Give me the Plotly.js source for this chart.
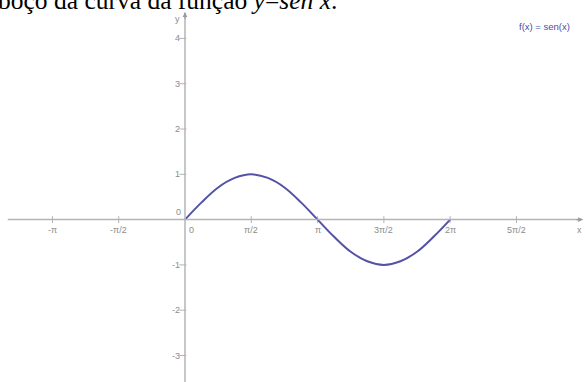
<!DOCTYPE html>
<html>
<head>
<meta charset="utf-8">
<script src="https://cdn.plot.ly/plotly-3.0.1.min.js"></script>
<style>
  html, body { margin: 0; padding: 0; background: #fff; }
  #chart { width: 585px; height: 382px; }
</style>
</head>
<body>
<div id="chart"></div>
<script>
const PI = Math.PI;

// curve points (x in multiples of pi/8)
const curveX = [0, PI/8, PI/4, 3*PI/8, PI/2, 5*PI/8, 3*PI/4, 7*PI/8, PI,
                9*PI/8, 5*PI/4, 11*PI/8, 3*PI/2, 13*PI/8, 7*PI/4, 15*PI/8, 2*PI];
const curveY = [0, 0.38, 0.71, 0.92, 1, 0.92, 0.71, 0.38, 0,
                -0.38, -0.71, -0.92, -1, -0.92, -0.71, -0.38, 0];

// x axis ticks
const xTickVals = [-PI, -PI/2, PI/2, PI, 3*PI/2, 2*PI, 5*PI/2];
const xTickText = ['-π', '-π/2', 'π/2', 'π', '3π/2', '2π', '5π/2'];

// y axis ticks
const yTickVals = [-3, -2, -1, 1, 2, 3, 4];
const yTickText = ['-3', '-2', '-1', '1', '2', '3', '4'];

const axisGray = '#b4b4b4';
const labelGray = '#8c8c8c';
const curveColor = '#5252a6';

const xMin = -4.384, xMax = 9.479;
const yMin = -3.585, yMax = 4.848;

let traces = [
  {
    x: xTickVals, y: xTickVals.map(() => 0),
    mode: 'markers', type: 'scatter', hoverinfo: 'skip',
    marker: { symbol: 'line-ns', size: 5, line: { color: axisGray, width: 1 } }
  },
  {
    x: yTickVals.map(() => -0.05), y: yTickVals,
    mode: 'markers', type: 'scatter', hoverinfo: 'skip',
    marker: { symbol: 'line-ew', size: 5, line: { color: axisGray, width: 1 } }
  },
  {
    x: curveX, y: curveY,
    mode: 'lines', type: 'scatter', hoverinfo: 'skip',
    line: { color: curveColor, width: 2, shape: 'spline', smoothing: 1 }
  }
];

let annotations = [];
xTickVals.forEach((v, i) => {
  annotations.push({
    x: v, y: 0, xref: 'x', yref: 'y', text: xTickText[i], showarrow: false,
    yanchor: 'top', yshift: -3, font: { family: 'Arial, Liberation Sans', size: 9, color: labelGray }
  });
});
yTickVals.forEach((v, i) => {
  annotations.push({
    x: 0, y: v, xref: 'x', yref: 'y', text: yTickText[i], showarrow: false,
    xanchor: 'right', xshift: -3, font: { family: 'Arial, Liberation Sans', size: 9, color: labelGray }
  });
});
// origin labels
annotations.push({
  x: 0, y: 0, xref: 'x', yref: 'y', text: '0', showarrow: false,
  xanchor: 'left', yanchor: 'top', xshift: 2, yshift: -3,
  font: { family: 'Arial, Liberation Sans', size: 9, color: labelGray }
});
annotations.push({
  x: 0, y: 0, xref: 'x', yref: 'y', text: '0', showarrow: false,
  xanchor: 'right', yanchor: 'bottom', xshift: -2, yshift: 1,
  font: { family: 'Arial, Liberation Sans', size: 9, color: labelGray }
});
// axis names
annotations.push({
  x: 9.36, y: 0, xref: 'x', yref: 'y', text: 'x', showarrow: false,
  yanchor: 'top', yshift: -3, font: { family: 'Arial, Liberation Sans', size: 9, color: labelGray }
});
annotations.push({
  x: 0, y: 4.43, xref: 'x', yref: 'y', text: 'y', showarrow: false,
  xanchor: 'right', xshift: -3, font: { family: 'Arial, Liberation Sans', size: 9, color: labelGray }
});
// arrow heads
annotations.push({
  x: 9.43, y: 0, ax: -8, ay: 0, xref: 'x', yref: 'y', text: '', showarrow: true,
  arrowhead: 2, arrowsize: 0.8, arrowwidth: 1.2, arrowcolor: '#9a9a9a'
});
annotations.push({
  x: 0, y: 4.58, ax: 0, ay: 8, xref: 'x', yref: 'y', text: '', showarrow: true,
  arrowhead: 2, arrowsize: 0.8, arrowwidth: 1.2, arrowcolor: '#9a9a9a'
});
// legend text
annotations.push({
  x: 572 / 585, y: 1 - 27 / 382, xref: 'paper', yref: 'paper', text: 'f(x) = sen(x)',
  showarrow: false, xanchor: 'right', yanchor: 'middle',
  font: { family: 'Arial, Liberation Sans', size: 9.5, color: '#4c4ca8' }
});
// clipped caption at the top
annotations.push({
  x: -4 / 585, y: 1 - 17 / 382, xref: 'paper', yref: 'paper',
  text: 'boço da curva da função <i>y</i>=<i>sen x</i>.',
  showarrow: false, xanchor: 'left', yanchor: 'bottom',
  font: { family: 'Liberation Serif, Times New Roman, serif', size: 25.5, color: '#000' }
});

const layout = {
  width: 585, height: 382,
  margin: { l: 0, r: 0, t: 0, b: 0 },
  paper_bgcolor: '#fff', plot_bgcolor: '#fff',
  showlegend: false,
  xaxis: { range: [xMin, xMax], visible: false, fixedrange: true },
  yaxis: { range: [yMin, yMax], visible: false, fixedrange: true },
  shapes: [
    { type: 'line', xref: 'x', yref: 'y', x0: -4.2, x1: 9.42, y0: 0, y1: 0,
      line: { color: axisGray, width: 1.5 } },
    { type: 'line', xref: 'x', yref: 'y', x0: 0, x1: 0, y0: yMin, y1: 4.57,
      line: { color: axisGray, width: 1.5 } }
  ],
  annotations: annotations
};

Plotly.newPlot('chart', traces, layout, { staticPlot: true });
</script>
</body>
</html>
